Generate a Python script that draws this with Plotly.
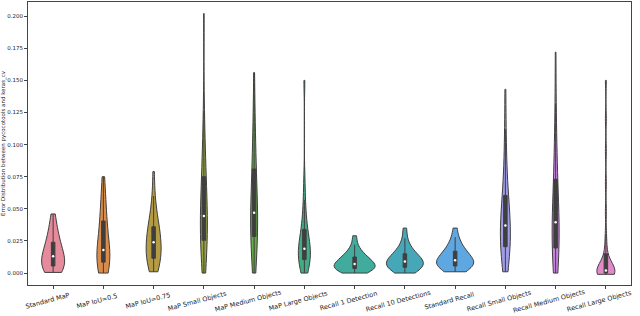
import numpy as np
import plotly.graph_objects as go

categories = ["Standard MaP", "MaP IoU=0.5", "MaP IoU=0.75", "MaP Small Objects",
              "MaP Medium Objects", "MaP Large Objects", "Recall 1 Detection",
              "Recall 10 Detections", "Standard Recall", "Recall Small Objects",
              "Recall Medium Objects", "Recall Large Objects"]

standard_map = [0.0005, 0.001, 0.002, 0.003, 0.004, 0.005, 0.006, 0.007, 0.008, 0.009, 0.011, 0.012,
                0.014, 0.015, 0.017, 0.019, 0.021, 0.023, 0.025, 0.028, 0.031, 0.035, 0.040, 0.046]
map_iou_50 = [0.0, 0.002, 0.004, 0.006, 0.007, 0.008, 0.009, 0.010, 0.012, 0.014, 0.016, 0.017,
              0.019, 0.022, 0.026, 0.030, 0.035, 0.039, 0.042, 0.046, 0.052, 0.058, 0.066, 0.075]
map_iou_75 = [0.001, 0.004, 0.007, 0.009, 0.010, 0.011, 0.012, 0.014, 0.016, 0.018, 0.020, 0.023,
              0.025, 0.027, 0.029, 0.031, 0.033, 0.035, 0.037, 0.041, 0.045, 0.052, 0.060, 0.079]
map_small = [0.000, 0.006, 0.012, 0.017, 0.021, 0.024, 0.027, 0.031, 0.035, 0.038, 0.041, 0.043,
             0.046, 0.050, 0.055, 0.060, 0.066, 0.072, 0.078, 0.085, 0.093, 0.105, 0.125, 0.202]
map_medium = [0.000, 0.008, 0.015, 0.020, 0.024, 0.027, 0.030, 0.034, 0.038, 0.041, 0.044, 0.046,
              0.048, 0.052, 0.057, 0.063, 0.070, 0.077, 0.085, 0.093, 0.101, 0.112, 0.128, 0.156]
map_large = [0.000, 0.003, 0.005, 0.007, 0.009, 0.010, 0.011, 0.013, 0.014, 0.016, 0.017, 0.018,
             0.020, 0.022, 0.024, 0.026, 0.029, 0.032, 0.036, 0.041, 0.048, 0.057, 0.072, 0.150]
recall_1 = [0.000, 0.001, 0.002, 0.002, 0.003, 0.003, 0.004, 0.004, 0.005, 0.006, 0.006, 0.007,
            0.007, 0.008, 0.009, 0.010, 0.011, 0.012, 0.013, 0.014, 0.016, 0.018, 0.022, 0.029]
recall_10 = [0.000, 0.001, 0.002, 0.003, 0.004, 0.004, 0.005, 0.006, 0.007, 0.008, 0.008, 0.009,
             0.009, 0.010, 0.011, 0.012, 0.013, 0.014, 0.016, 0.017, 0.019, 0.022, 0.027, 0.035]
standard_recall = [0.001, 0.002, 0.003, 0.004, 0.005, 0.005, 0.006, 0.007, 0.008, 0.009, 0.009, 0.010,
                   0.010, 0.011, 0.012, 0.013, 0.015, 0.016, 0.018, 0.019, 0.021, 0.024, 0.028, 0.035]
recall_small = [0.001, 0.007, 0.011, 0.014, 0.017, 0.019, 0.022, 0.025, 0.028, 0.031, 0.034, 0.036,
                0.038, 0.041, 0.044, 0.048, 0.053, 0.058, 0.063, 0.070, 0.080, 0.095, 0.112, 0.143]
recall_medium = [0.000, 0.004, 0.008, 0.012, 0.015, 0.018, 0.021, 0.025, 0.029, 0.033, 0.036, 0.038,
                 0.041, 0.045, 0.050, 0.056, 0.062, 0.069, 0.077, 0.086, 0.096, 0.110, 0.132, 0.172]
recall_large = [-0.001, -0.001, -0.001, 0.000, 0.000, 0.000, 0.000, 0.000, 0.000, 0.001, 0.001,
                0.001, 0.001, 0.001, 0.002, 0.002, 0.003, 0.004, 0.005, 0.006, 0.008, 0.011, 0.015,
                0.021, 0.030, 0.048, 0.070, 0.095, 0.120, 0.150]

series = [standard_map, map_iou_50, map_iou_75, map_small, map_medium, map_large,
          recall_1, recall_10, standard_recall, recall_small, recall_medium, recall_large]

# full violin widths as measured on the picture (pixels, about 50 px per category)
violin_widths_px = [23, 13, 15, 7, 7, 12, 41, 37, 37, 10, 7, 18]

colors = ["#e58b9b", "#dc8c48", "#b59c43", "#98a53f", "#66ad45", "#43ac85",
          "#41ab9e", "#45a7b8", "#5ea7e0", "#a09de8", "#c984e2", "#e388c9"]

y_ticks = [0.0, 0.025, 0.05, 0.075, 0.1, 0.125, 0.15, 0.175, 0.2]

EDGE = "#3f3f3f"
PX_PER_CAT = 603.0 / 12


def silverman(v):
    v = np.asarray(v, dtype=float)
    n = len(v)
    sd = v.std(ddof=1)
    q75, q25 = np.percentile(v, [75, 25])
    iqr = q75 - q25
    a = min(sd, iqr / 1.349) if iqr > 0 else sd
    return 1.059 * a * n ** -0.2


fig = go.Figure()
for cat, vals, col, wpx in zip(categories, series, colors, violin_widths_px):
    w = wpx / PX_PER_CAT
    fig.add_trace(go.Violin(
        x=[cat] * len(vals), y=vals, name=cat, scalegroup=cat, scalemode="width",
        width=w, bandwidth=1.15 * silverman(vals), spanmode="hard", points=False,
        fillcolor=col, opacity=1, line=dict(color=EDGE, width=1),
        box=dict(visible=True, width=min(1.0, (3.5 / PX_PER_CAT) / w), fillcolor=EDGE,
                 line=dict(color=EDGE, width=1)),
        meanline=dict(visible=False), showlegend=False, hoverinfo="skip"))

fig.add_trace(go.Scatter(
    x=categories, y=[float(np.median(s)) for s in series], mode="markers",
    marker=dict(color="white", size=2.5, line=dict(width=0)), showlegend=False,
    hoverinfo="skip"))

for cat in categories:
    fig.add_annotation(x=cat, xref="x", y=-0.058, yref="paper", text=cat,
                       showarrow=False, textangle=-15, xanchor="center", yanchor="middle",
                       xshift=-6,
                       font=dict(family="DejaVu Sans", size=6.5, color="#222"))

fig.update_layout(
    width=640, height=316, margin=dict(l=28, r=9, t=2, b=31),
    paper_bgcolor="white", plot_bgcolor="white", violinmode="overlay",
    font=dict(family="DejaVu Sans", color="#222"),
    xaxis=dict(type="category", categoryorder="array", categoryarray=categories,
               range=[-0.5, 11.5], showgrid=False, zeroline=False, automargin=False,
               showline=True, mirror=True, linecolor="#444", linewidth=1,
               ticks="outside", ticklen=3, tickcolor="#444", showticklabels=False),
    yaxis=dict(range=[-0.0093, 0.211], tickvals=y_ticks, tickformat=".3f",
               showgrid=False, zeroline=False, showline=True, mirror=True, automargin=False,
               linecolor="#444", linewidth=1, ticks="outside", ticklen=3,
               tickcolor="#444", tickfont=dict(size=5.5, color="#222"),
               title=dict(text="Error Distribution between pycocotools and keras_cv",
                          font=dict(size=5.5, color="#222"), standoff=2)),
)

fig.write_html("out.html", config={"displayModeBar": False},
               post_script="document.body.style.margin='0px';document.body.style.overflow='hidden';")
